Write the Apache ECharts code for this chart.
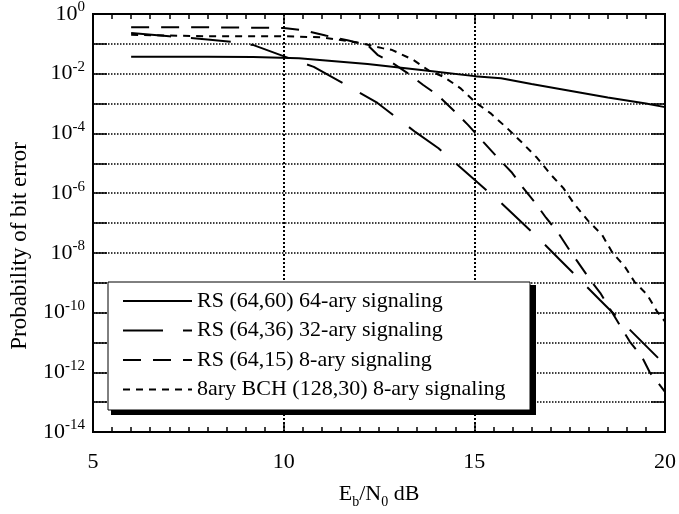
<!DOCTYPE html>
<html><head><meta charset="utf-8">
<script src="https://cdn.jsdelivr.net/npm/echarts@6/dist/echarts.min.js"></script>
<style>html,body{margin:0;padding:0;background:#fff}#c{width:679px;height:514px}</style>
</head><body><div id="c"></div>
<script>
// ---- data ----
const seriesNames = [
  'RS (64,60) 64-ary signaling',
  'RS (64,36) 32-ary signaling',
  'RS (64,15) 8-ary signaling',
  '8ary BCH (128,30) 8-ary signaling'
];
const xTickLabels = [5, 10, 15, 20];
const yLabelExponents = [0, -2, -4, -6, -8, -10, -12, -14];

const rs6460X = [6, 8, 9.2, 10.4, 12.2, 13.9, 15, 15.7, 16.5, 17.5, 18.5, 19.5, 20];
const rs6460Y = [3.7e-2, 3.7e-2, 3.6e-2, 3.3e-2, 2.1e-2, 1.2e-2, 8.3e-3, 7.1e-3, 4.5e-3, 2.7e-3, 1.6e-3, 1.0e-3, 7.6e-4];

const rs6436X = [6, 7, 8, 8.66, 9.21, 10.26, 10.79, 11.88, 12.46, 13.46, 14.06, 15.08, 15.68, 16.73, 17.25, 18.3, 18.61, 19.87, 20];
const rs6436Y = [0.23, 0.18, 0.14, 0.115, 0.091, 0.029, 0.017, 2.8e-3, 1.05e-3, 1.1e-4, 3.2e-5, 2.3e-6, 5e-7, 2.7e-8, 5.8e-9, 2.6e-10, 1.05e-10, 2.6e-12, 1.75e-12];

const rs6415X = [6, 8, 10, 10.5, 11.1, 11.7, 12.2, 12.46, 12.85, 13.25, 13.66, 14.03, 14.5, 14.84, 15.24, 15.6, 15.99, 16.28, 16.6, 16.88, 17.2, 17.49, 17.77, 18.04, 18.3, 19.08, 19.4, 19.6, 19.92, 20];
const rs6415Y = [0.36, 0.36, 0.34, 0.29, 0.19, 0.13, 0.091, 0.043, 0.023, 0.0105, 4.2e-3, 1.95e-3, 5.2e-4, 1.9e-4, 5.1e-5, 1.6e-5, 4.8e-6, 1.5e-6, 4.7e-7, 1.5e-7, 4.7e-8, 1.26e-8, 3.9e-9, 1.23e-9, 4.6e-10, 1.05e-11, 3.2e-12, 1e-12, 3e-13, 2.2e-13];

const bchX = [6, 8, 10, 11, 11.4, 12.0, 12.59, 12.85, 13.4, 13.8, 14.2, 14.63, 15.03, 15.42, 15.86, 16.26, 16.65, 16.99, 17.33, 17.64, 17.98, 18.35, 18.61, 18.95, 19.2, 19.53, 19.8, 20];
const bchY = [0.2, 0.18, 0.18, 0.166, 0.14, 0.107, 0.072, 0.062, 0.029, 0.013, 7.8e-3, 3.3e-3, 1.1e-3, 4.8e-4, 1.5e-4, 4.8e-5, 1.5e-5, 4.4e-6, 1.5e-6, 4e-7, 1.2e-7, 4e-8, 1.07e-8, 3.4e-9, 1.07e-9, 4e-10, 1.05e-10, 5e-11];

// ---- chart ----
const FONT = 'Liberation Serif';
const pairs = (xs, ys) => xs.map((x, i) => [x, ys[i]]);
const chart = echarts.init(document.getElementById('c'), null, {renderer: 'canvas'});

function lineSeries(name, xs, ys, dash) {
  return {
    name: name, type: 'line', data: pairs(xs, ys),
    showSymbol: false, symbol: 'none', animation: false, clip: true,
    lineStyle: {color: '#000', width: 2, type: dash},
    itemStyle: {color: '#000'},
    emphasis: {disabled: true}
  };
}

const tickStyle = {color: '#000', width: 1.5};
const xCommon = {
  type: 'value', min: xTickLabels[0], max: xTickLabels[xTickLabels.length - 1], interval: 5,
  axisLine: {show: false},
  axisTick: {show: true, inside: true, length: 9, lineStyle: tickStyle},
  minorTick: {show: true, splitNumber: 10, length: 5, lineStyle: tickStyle}
};
const yCommon = {
  type: 'log', logBase: 10, min: 1e-14, max: 1, interval: 1,
  axisLine: {show: false},
  axisTick: {show: true, inside: true, length: 14, lineStyle: tickStyle},
  minorTick: {show: false},
  minorSplitLine: {show: false}
};

chart.setOption({
  backgroundColor: '#fff',
  animation: false,
  grid: {left: 92, right: 14, top: 14, bottom: 82, show: true, borderColor: '#000', borderWidth: 2, backgroundColor: 'transparent'},
  xAxis: [
    Object.assign({}, xCommon, {
      position: 'bottom',
      axisLabel: {color: '#000', fontFamily: FONT, fontSize: 22, margin: 19,
        formatter: v => xTickLabels.indexOf(v) >= 0 ? String(v) : ''},
      splitLine: {show: true, lineStyle: {color: '#000', width: 2, type: [2, 2]}},
      name: 'E{s|b}/N{s|0} dB', nameLocation: 'middle', nameGap: 47,
      nameTextStyle: {color: '#000', fontFamily: FONT, fontSize: 22,
        rich: {s: {fontFamily: FONT, fontSize: 14, color: '#000', padding: [16, 0, 0, 0]}}}
    }),
    Object.assign({}, xCommon, {position: 'top', axisLabel: {show: false}, splitLine: {show: false}})
  ],
  yAxis: [
    Object.assign({}, yCommon, {
      position: 'left',
      axisLabel: {color: '#000', fontFamily: FONT, fontSize: 22, margin: 8,
        formatter: function (v) {
          const e = Math.round(Math.log10(v));
          return yLabelExponents.indexOf(e) >= 0 ? '{b|10}{s|' + e + '}' : '';
        },
        rich: {b: {fontFamily: FONT, fontSize: 22, color: '#000'},
               s: {fontFamily: FONT, fontSize: 15, color: '#000', padding: [0, 0, 13, 0]}}},
      splitLine: {show: true, lineStyle: {color: '#000', width: 1.5, type: [1.5, 1.5]}},
      name: 'Probability of bit error', nameLocation: 'middle', nameGap: 62,
      nameTextStyle: {color: '#000', fontFamily: FONT, fontSize: 23, padding: [0, 46, 0, 0]}
    }),
    Object.assign({}, yCommon, {position: 'right', axisLabel: {show: false}, splitLine: {show: false}})
  ],
  graphic: {elements: [
    {type: 'rect', z: 100, shape: {x: 111, y: 285, width: 425, height: 130}, style: {fill: '#000'}},
    {type: 'rect', z: 101, shape: {x: 108, y: 282, width: 422, height: 128}, style: {fill: '#fff', stroke: '#000', lineWidth: 1}}
  ]},
  legend: {
    orient: 'vertical', left: 122, top: 290, padding: 0, z: 200,
    itemWidth: 69, itemHeight: 14, itemGap: 7.5,
    itemStyle: {opacity: 0},
    textStyle: {fontFamily: FONT, fontSize: 22, color: '#000', lineHeight: 22},
    data: seriesNames, selectedMode: false
  },
  series: [
    lineSeries(seriesNames[0], rs6460X, rs6460Y, 'solid'),
    lineSeries(seriesNames[1], rs6436X, rs6436Y, [40, 20]),
    lineSeries(seriesNames[2], rs6415X, rs6415Y, [18, 12]),
    lineSeries(seriesNames[3], bchX, bchY, [7, 6])
  ]
});
</script></body></html>
